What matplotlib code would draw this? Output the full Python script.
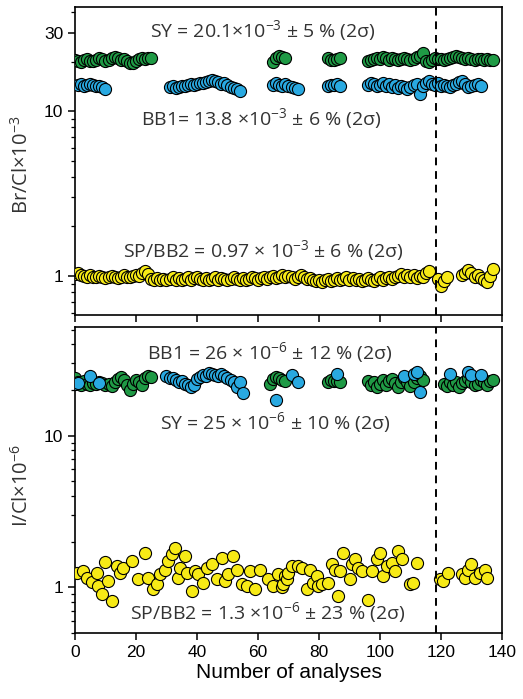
import matplotlib
matplotlib.use("Agg")
import matplotlib.pyplot as plt
from matplotlib.ticker import FixedLocator, LogLocator, NullFormatter

plt.rcParams['font.family'] = ['Liberation Sans', 'DejaVu Sans']
plt.rcParams['mathtext.fontset'] = 'custom'
plt.rcParams['mathtext.rm'] = 'Open Sans'
plt.rcParams['mathtext.it'] = 'Open Sans:italic'

# ---- top panel: Br/Cl x 10^-3 ----
br_sy_x = [0, 1, 2, 3, 4, 5, 6, 7, 8, 9, 10, 11, 12, 13, 14, 15, 16, 17, 18, 19, 20, 21, 22, 23, 24, 25,
           65, 66, 67, 68, 69,
           83, 84, 85, 86, 87,
           96, 97, 98, 99, 100, 101, 102, 103, 104, 105, 106, 107, 108, 109, 110, 111, 112, 113, 114, 115,
           116, 117, 118, 119, 120, 121, 122, 123, 124, 125, 126, 127, 128, 129, 130, 131, 132, 133, 134,
           135, 136, 137]
br_sy_y = [20.6, 20.2, 20.0, 20.4, 20.8, 20.3, 20.1, 20.6, 21.0, 20.7, 20.2, 20.5, 21.2, 21.4, 21.0, 20.6,
           20.9, 20.1, 19.7, 19.6, 20.3, 20.8, 21.0, 20.9, 21.1, 21.2,
           20.0, 21.0, 21.6, 21.4, 21.0,
           21.0, 20.6, 20.4, 20.8, 21.0,
           20.2, 20.6, 20.9, 21.1, 20.8, 21.3, 21.0, 20.6, 21.2, 20.9, 20.5, 20.8, 21.1, 20.7, 20.5, 20.9,
           21.4, 21.8, 22.6, 20.2, 19.8, 20.6, 21.0, 20.7, 20.9, 20.5, 20.8, 21.0, 21.3, 21.8, 21.5, 21.1,
           20.9, 21.2, 20.8, 20.6, 20.9, 20.7, 20.6, 20.8, 20.5, 20.5]

br_bb1_x = [1, 2, 3, 4, 5, 6, 7, 8, 9, 10,
            31, 32, 33, 34, 35, 36, 37, 38, 39, 40, 41, 42, 43, 44, 45, 46, 47, 48, 49, 50, 51, 52, 53, 54,
            65, 66, 67, 68, 69, 70, 71, 72, 73,
            83, 84, 85, 86, 87,
            96, 97, 98, 99, 100, 101, 102, 103, 104, 105, 106, 107, 108, 109, 110, 111, 112, 113, 114, 115,
            116, 117, 118, 119, 120, 121, 122, 123, 124, 125, 126, 127, 128, 129, 130, 131, 132, 133]
br_bb1_y = [14.4, 14.6, 14.3, 14.5, 14.7, 14.4, 14.2, 14.3, 14.0, 13.7,
            14.0, 14.2, 13.9, 14.1, 14.3, 14.2, 14.4, 14.6, 14.5, 14.7, 14.8, 14.9, 15.1, 15.2, 15.4, 15.3,
            15.0, 14.7, 14.9, 14.4, 14.1, 13.8, 13.6, 13.3,
            14.4, 14.8, 14.5, 14.2, 14.6, 14.3, 14.0, 13.8, 13.6,
            14.3, 14.5, 14.4, 14.6, 14.2,
            14.4, 14.8, 14.6, 14.3, 14.5, 14.9, 14.2, 14.6, 14.0, 14.4, 13.9, 14.3, 14.1, 13.7, 14.0, 14.4,
            14.6, 12.8, 14.2, 14.9, 15.2, 14.6, 14.4, 14.8, 14.3, 14.5, 14.2, 14.0, 14.4, 14.7, 15.0, 15.3,
            14.6, 14.1, 14.2, 14.5, 14.6, 14.3]

br_sp_x = [0, 1, 2, 3, 4, 5, 6, 7, 8, 9, 10, 11, 12, 13, 14, 15, 16, 17, 18, 19, 20, 21, 22, 23, 24, 25,
           26, 27, 28, 29, 30, 31, 32, 33, 34, 35, 36, 37, 38, 39, 40, 41, 42, 43, 44, 45, 46, 47, 48, 49,
           50, 51, 52, 53, 54, 55, 56, 57, 58, 59, 60, 61, 62, 63, 64, 65, 66, 67, 68, 69, 70, 71, 72, 73,
           74, 75, 76, 77, 78, 79, 80, 81, 82, 83, 84, 85, 86, 87, 88, 89, 90, 91, 92, 93, 94, 95, 96, 97,
           98, 99, 100, 101, 102, 103, 104, 105, 106, 107, 108, 109, 110, 111, 112, 113, 114, 115, 116,
           119, 120, 121, 122,
           127, 128, 129, 130, 131, 132, 133, 134, 135, 136, 137]
br_sp_y = [1.03, 1.04, 1.02, 1.00, 0.99, 1.01, 0.98, 0.99, 1.00, 0.98,
           0.97, 0.99, 1.00, 0.98, 0.97, 0.99, 1.01, 0.99, 0.98, 1.00,
           1.02, 1.00, 1.04, 1.08, 1.03, 0.96, 0.94, 0.97, 0.95, 0.96,
           0.94, 0.96, 0.98, 0.95, 0.97, 0.94, 0.96, 0.98, 0.95, 0.97,
           0.99, 0.96, 0.94, 0.97, 0.95, 0.96, 0.98, 0.95, 0.97, 0.96,
           0.94, 0.96, 0.98, 0.96, 0.95, 0.97, 0.95, 0.96, 0.98, 0.97,
           0.95, 0.97, 0.99, 0.96, 0.98, 1.00, 0.97, 0.99, 1.01, 0.98,
           1.00, 0.98, 0.96, 0.99, 1.01, 0.98, 0.96, 0.97, 0.95, 0.93,
           0.95, 0.92, 0.94, 0.96, 0.93, 0.95, 0.97, 0.94, 0.96, 0.98,
           0.95, 0.97, 0.94, 0.96, 0.93, 0.95, 0.97, 0.95, 0.93, 0.96,
           0.98, 0.95, 0.97, 0.99, 0.96, 0.98, 1.00, 1.03, 0.99, 1.02,
           0.98, 1.01, 0.97, 1.00, 0.98, 1.04, 1.07,
           0.96, 0.87, 0.93, 0.98,
           1.02, 1.04, 1.09, 1.05, 0.99, 1.01, 0.97, 0.95, 0.92, 1.00, 1.10]

# ---- bottom panel: I/Cl x 10^-6 ----
i_sy_x = [0, 1, 2, 3, 4, 5, 6, 7, 8, 9, 10, 11, 12, 13, 14, 15, 16, 17, 18, 19, 20, 21, 22, 23, 24, 25,
          64, 65, 66, 67, 68, 69,
          83, 84, 85, 86, 87,
          96, 97, 98, 99, 100, 101, 102, 103, 104, 105, 106, 107, 108, 109, 110, 111, 112, 113, 114,
          121, 122, 123, 124, 125, 126, 127, 128, 129, 130, 131, 132, 133, 134, 135, 136, 137]
i_sy_y = [23.8, 22.4, 21.6, 23.0, 22.0, 21.5, 22.3, 21.8, 22.6, 22.2, 21.5, 22.0, 21.3, 22.6, 23.6, 24.5,
          23.2, 21.4, 20.0, 21.8, 23.4, 22.6, 21.5, 23.8, 24.6, 24.4,
          22.0, 23.5, 24.4, 24.0, 23.2, 22.8,
          22.6, 23.2, 22.8, 23.0, 22.5,
          23.0, 21.6, 22.4, 20.8, 22.0, 23.4, 21.4, 22.8, 23.6, 22.2, 21.0, 22.6, 23.8, 22.4, 21.2, 22.6,
          23.8, 24.6, 23.4,
          22.0, 21.2, 22.6, 21.6, 22.4, 21.0, 22.2, 23.0, 23.8, 22.6, 21.4, 22.0, 23.2, 22.4, 21.6, 22.8, 23.4]

i_bb1_x = [0, 1, 5, 8,
           30, 31, 32, 33, 34, 35, 36, 37, 38, 39, 40, 41, 42, 43, 44, 45, 46, 47, 48, 49, 50, 51, 52, 53,
           54, 55,
           66, 71, 73, 86, 108, 111, 112, 113, 123, 129, 130, 133]
i_bb1_y = [22.0, 22.3, 24.6, 22.3,
           24.6, 24.0, 23.8, 23.2, 22.4, 22.8, 21.8, 21.4, 20.8, 21.6, 23.6, 24.4, 25.2, 24.8, 25.8, 25.4,
           25.0, 24.6, 25.6, 24.8, 24.0, 23.2, 22.4, 21.0, 22.6, 19.2,
           17.3, 25.2, 22.6, 25.6, 24.6, 25.4, 26.2, 19.4, 25.4, 26.4, 25.0, 25.2]

i_sp_x = [0.5, 2.7, 3.8, 5.5, 7.1, 7.7, 8.7, 9.8, 10.9, 12.0, 13.7, 14.8, 15.8, 18.6, 20.8, 23.0, 24.0,
          25.7, 26.8, 27.9, 29.5, 30.6, 31.7, 32.8, 33.9, 34.4, 36.1, 36.6, 38.3, 39.3, 40.4, 42.0, 43.2,
          44.8, 46.4, 48.1, 49.2, 50.3, 51.9, 53.0, 54.6, 56.3, 57.4, 59.0, 60.7, 63.4, 65.0, 66.7, 67.8,
          68.3, 68.9, 69.4, 70.0, 71.0, 73.2, 74.3, 76.0, 77.0, 78.1, 79.2, 79.8, 80.9, 83.0, 84.2, 85.2,
          86.3, 86.9, 88.0, 90.2, 90.7, 91.8, 92.9, 94.0, 96.2, 97.3, 98.9, 100.0, 101.1, 102.2, 103.8,
          104.9, 106.0, 107.1, 109.8, 110.9, 112.0,
          119.7, 120.8, 122.4, 126.8, 127.9, 129.0, 130.0, 131.1, 132.8, 134.4, 135.0]
i_sp_y = [1.25, 1.28, 1.16, 1.08, 1.25, 1.02, 0.90, 1.46, 1.10, 0.81, 1.38, 1.25, 1.35, 1.49, 1.13, 1.69,
          1.16, 0.97, 1.05, 1.22, 1.31, 1.49, 1.65, 1.82, 1.16, 1.35, 1.61, 1.25, 0.95, 1.28, 1.22, 1.07,
          1.35, 1.42, 1.13, 1.57, 1.10, 1.22, 1.61, 1.31, 1.05, 1.02, 1.28, 0.97, 1.31, 1.13, 1.02, 1.22,
          1.00, 1.05, 1.19, 1.13, 1.25, 1.38, 1.38, 1.35, 0.97, 1.31, 1.07, 1.19, 1.02, 1.05, 1.07, 1.42,
          1.31, 0.88, 1.28, 1.69, 1.13, 1.42, 1.53, 1.35, 1.28, 0.83, 1.28, 1.53, 1.69, 1.19, 1.38, 1.45,
          1.28, 1.73, 1.53, 1.05, 1.07, 1.45,
          1.13, 1.10, 1.25, 1.22, 1.16, 1.31, 1.42, 1.16, 1.25, 1.31, 1.16]

green = '#1f9a45'
blue = '#29a9e1'
yellow = '#f7ea16'
ms = 76

fig = plt.figure(figsize=(5.23, 6.99), dpi=100)
ax1 = fig.add_axes([0.1434, 0.5494, 0.8164, 0.4406])
ax2 = fig.add_axes([0.1434, 0.0944, 0.8164, 0.4378])

ax1.scatter(br_sy_x, br_sy_y, s=ms, c=green, edgecolors='black', linewidths=0.8, zorder=3)
ax1.scatter(br_bb1_x, br_bb1_y, s=ms, c=blue, edgecolors='black', linewidths=0.8, zorder=3)
ax1.scatter(br_sp_x, br_sp_y, s=ms, c=yellow, edgecolors='black', linewidths=0.8, zorder=3)

ax2.scatter(i_sy_x, i_sy_y, s=ms, c=green, edgecolors='black', linewidths=0.8, zorder=3)
ax2.scatter(i_bb1_x, i_bb1_y, s=ms, c=blue, edgecolors='black', linewidths=0.8, zorder=3)
ax2.scatter(i_sp_x, i_sp_y, s=ms, c=yellow, edgecolors='black', linewidths=0.8, zorder=3)

for ax in (ax1, ax2):
    ax.set_yscale('log')
    ax.set_xlim(0, 140)
    ax.set_xticks([0, 20, 40, 60, 80, 100, 120, 140])
    ax.axvline(118.5, color='black', lw=1.4, ls=(0, (4, 3)), zorder=4)
    ax.tick_params(which='major', direction='out', length=5, width=1.1, labelsize=12.5)
    ax.tick_params(which='minor', direction='out', length=3, width=0.9)
    ax.yaxis.set_minor_locator(LogLocator(base=10, subs=(2, 3, 4, 5, 6, 7, 8, 9)))
    ax.yaxis.set_minor_formatter(NullFormatter())
    for sp in ax.spines.values():
        sp.set_linewidth(1.2)

ax1.set_ylim(0.58, 43)
ax1.yaxis.set_major_locator(FixedLocator([1, 10, 30]))
ax1.set_yticklabels(['1', '10', '30'])
ax1.tick_params(axis='x', labelbottom=False)

ax2.set_ylim(0.5, 52)
ax2.yaxis.set_major_locator(FixedLocator([1, 10]))
ax2.set_yticklabels(['1', '10'])
ax2.set_xlabel('Number of analyses', fontsize=15, labelpad=2)

tc = '#333333'
tf = 'Open Sans'
fs = 14
fig.text(0.503, 0.957, 'SY = 20.1×10$^{-3}$ ± 5 % (2σ)', ha='center', va='center', color=tc, family=tf, fontsize=fs)
fig.text(0.499, 0.831, 'BB1= 13.8 ×10$^{-3}$ ± 6 % (2σ)', ha='center', va='center', color=tc, family=tf, fontsize=fs)
fig.text(0.503, 0.642, 'SP/BB2 = 0.97 × 10$^{-3}$ ± 6 % (2σ)', ha='center', va='center', color=tc, family=tf, fontsize=fs)
fig.text(0.516, 0.495, 'BB1 = 26 × 10$^{-6}$ ± 12 % (2σ)', ha='center', va='center', color=tc, family=tf, fontsize=fs)
fig.text(0.526, 0.396, 'SY = 25 × 10$^{-6}$ ± 10 % (2σ)', ha='center', va='center', color=tc, family=tf, fontsize=fs)
fig.text(0.512, 0.124, 'SP/BB2 = 1.3 ×10$^{-6}$ ± 23 % (2σ)', ha='center', va='center', color=tc, family=tf, fontsize=fs)

fig.text(0.042, 0.764, 'Br/Cl×10$^{-3}$', rotation=90, ha='center', va='center', color=tc, family=tf, fontsize=14.5)
fig.text(0.042, 0.306, 'I/Cl×10$^{-6}$', rotation=90, ha='center', va='center', color=tc, family=tf, fontsize=14.5)

fig.savefig('out.png', dpi=100)
